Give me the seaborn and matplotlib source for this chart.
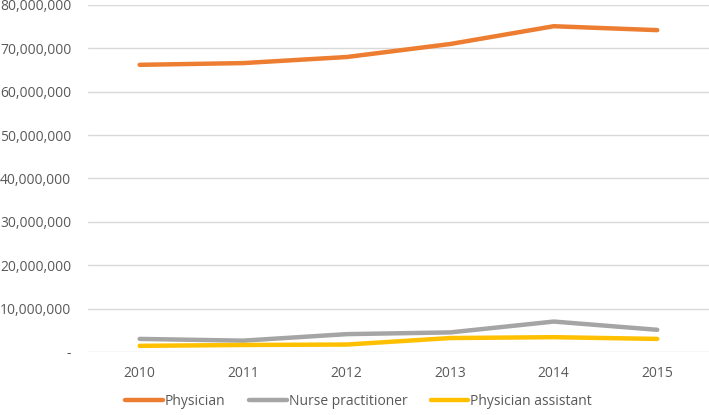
import numpy as np
import pandas as pd
import matplotlib.pyplot as plt
import matplotlib.ticker as mticker
import seaborn as sns

years = ['2010', '2011', '2012', '2013', '2014', '2015']
physician = [66.2e6, 66.6e6, 68.0e6, 71.0e6, 75.1e6, 74.2e6]
nurse_practitioner = [3.0e6, 2.6e6, 4.1e6, 4.5e6, 7.0e6, 5.1e6]
physician_assistant = [1.4e6, 1.6e6, 1.7e6, 3.2e6, 3.4e6, 3.0e6]

series = ['Physician', 'Nurse practitioner', 'Physician assistant']
colors = ['#ED7D31', '#A5A5A5', '#FFC000']

df = pd.DataFrame({
    'pos': list(range(len(years))) * 3,
    'value': physician + nurse_practitioner + physician_assistant,
    'group': [s for s in series for _ in years],
})

sns.set_style('white')
plt.rcParams['font.family'] = ['Open Sans', 'DejaVu Sans']

fig = plt.figure(figsize=(7.09, 4.15), dpi=100)
ax = fig.add_axes([0.124, 0.152, 0.876, 0.836])

sns.lineplot(data=df, x='pos', y='value', hue='group', hue_order=series,
             palette=colors, linewidth=3.2, ax=ax, legend=False)

ax.set_xlim(-0.5, 5.5)
ax.set_ylim(0, 80e6)
ax.set_xticks(range(len(years)))
ax.set_xticklabels(years)
ax.set_yticks(np.arange(0, 80e6 + 1, 10e6))
ax.yaxis.set_major_formatter(mticker.FuncFormatter(
    lambda v, p: '-' if v == 0 else f'{int(v):,}'))
ax.tick_params(axis='both', labelsize=10, colors='#595959', length=0)
ax.tick_params(axis='x', pad=10)
ax.tick_params(axis='y', pad=12)
ax.grid(axis='y', color='#D9D9D9', linewidth=1)
ax.set_axisbelow(True)
for s in ax.spines.values():
    s.set_visible(False)
ax.set_xlabel('')
ax.set_ylabel('')

handles = [plt.Line2D([], [], color=c, linewidth=3.2) for c in colors]
leg = fig.legend(handles, series, loc='center', bbox_to_anchor=(0.506, 0.032),
                 ncol=3, frameon=False, fontsize=10, handlelength=2.7,
                 handletextpad=0.15, columnspacing=1.7)
for t in leg.get_texts():
    t.set_color('#595959')

fig.savefig('out.png', dpi=100)
